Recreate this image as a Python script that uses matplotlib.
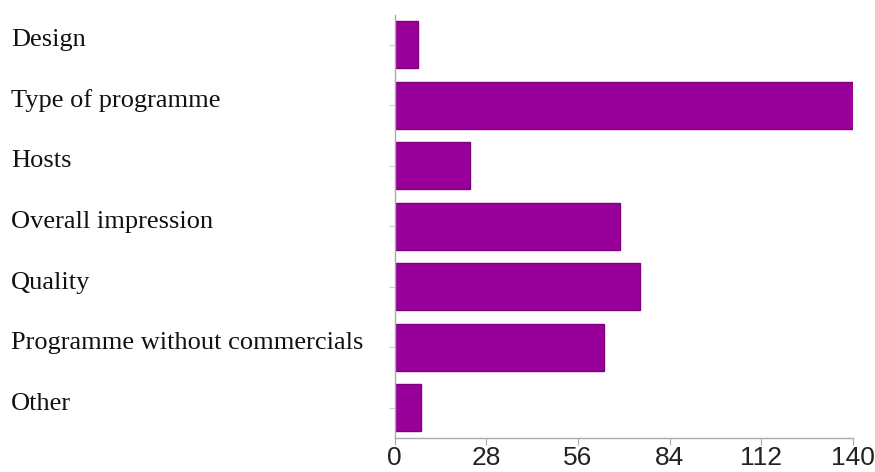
import matplotlib
matplotlib.use("Agg")
import matplotlib.pyplot as plt

categories = ["Design", "Type of programme", "Hosts", "Overall impression",
              "Quality", "Programme without commercials", "Other"]
values = [7, 140, 23, 69, 75, 64, 8]
xticks = [0, 28, 56, 84, 112, 140]

W, H = 875, 472
fig = plt.figure(figsize=(W / 100, H / 100), dpi=100)
x0, x1 = 394.7, 852.7
ytop, ybot = 14.5, 438
ax = fig.add_axes([x0 / W, (H - ybot) / H, (x1 - x0) / W, (ybot - ytop) / H])

n = len(categories)
pos = list(range(n))
ax.barh(pos, values, height=0.78, color="#990099", edgecolor="#7d007d", linewidth=1.0)
ax.set_ylim(n - 0.5, -0.5)
ax.set_xlim(0, 140)

for s in ["top", "right"]:
    ax.spines[s].set_visible(False)
for s in ["left", "bottom"]:
    ax.spines[s].set_color("#aaaaaa")
    ax.spines[s].set_linewidth(1.0)

ax.set_xticks(xticks)
ax.set_xticklabels([str(t) for t in xticks], fontsize=19, family="Liberation Sans", color="#222222")
ax.tick_params(axis="x", length=5, color="#aaaaaa", pad=1)
ax.set_yticks(pos)
ax.set_yticklabels([])
ax.tick_params(axis="y", length=4, color="#cccccc")

# label baselines in pixels from top
base0, step = 46, 60.7
for i, c in enumerate(categories):
    yb = H - (base0 + step * i)
    fig.text(11 / W, yb / H, c, ha="left", va="baseline", fontsize=19,
             family="Liberation Serif", color="#111111")

fig.savefig("out.png", dpi=100)
